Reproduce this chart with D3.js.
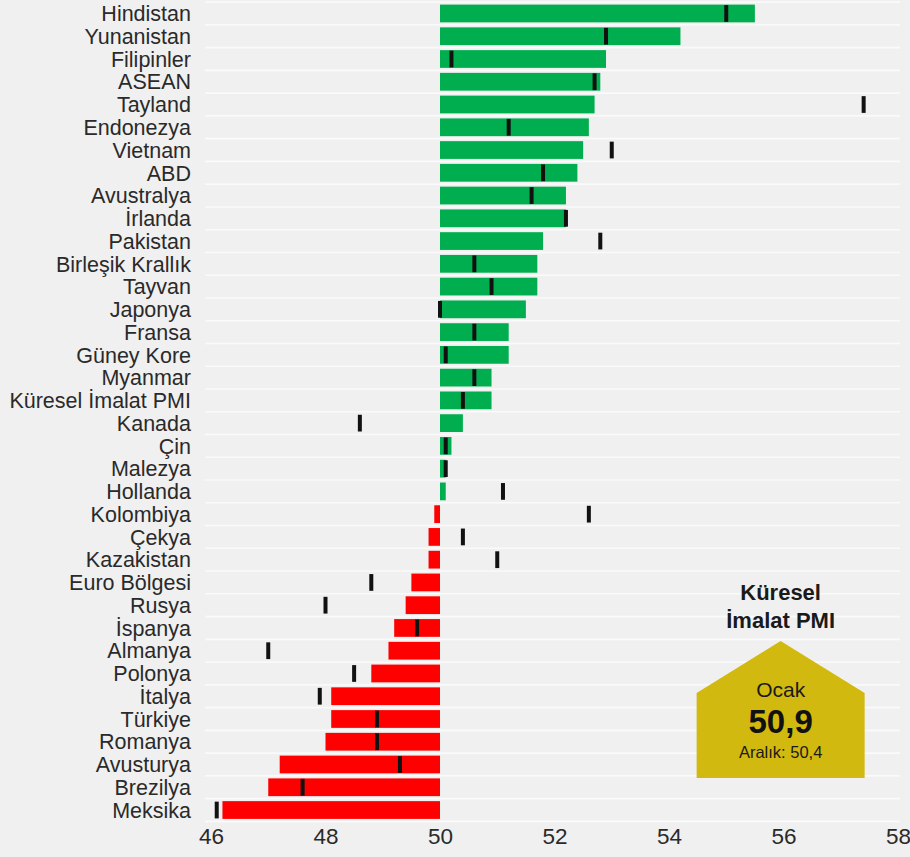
<!DOCTYPE html>
<html>
<head>
<meta charset="utf-8">
<script src="https://cdn.jsdelivr.net/npm/d3@7"></script>
<style>
  html, body { margin: 0; padding: 0; background: #f0f0f0; }
  svg { display: block; }
  text { font-family: "Liberation Sans", Arial, sans-serif; }
</style>
</head>
<body>
<svg id="chart" width="910" height="857"></svg>
<script>
// ---- Data ----
const countries = ["Hindistan","Yunanistan","Filipinler","ASEAN","Tayland","Endonezya","Vietnam","ABD","Avustralya","İrlanda","Pakistan","Birleşik Krallık","Tayvan","Japonya","Fransa","Güney Kore","Myanmar","Küresel İmalat PMI","Kanada","Çin","Malezya","Hollanda","Kolombiya","Çekya","Kazakistan","Euro Bölgesi","Rusya","İspanya","Almanya","Polonya","İtalya","Türkiye","Romanya","Avusturya","Brezilya","Meksika"];
const ocak =   [55.5,54.2,52.9,52.8,52.7,52.6,52.5,52.4,52.2,52.2,51.8,51.7,51.7,51.5,51.2,51.2,50.9,50.9,50.4,50.2,50.1,50.1,49.9,49.8,49.8,49.5,49.4,49.2,49.1,48.8,48.1,48.1,48.0,47.2,47.0,46.2];
const aralik = [55.0,52.9,50.2,52.7,57.4,51.2,53.0,51.8,51.6,52.2,52.8,50.6,50.9,50.0,50.6,50.1,50.6,50.4,48.6,50.1,50.1,51.1,52.6,50.4,51.0,48.8,48.0,49.6,47.0,48.5,47.9,48.9,48.9,49.3,47.6,46.1];
const xTicks = [46,48,50,52,54,56,58];
const badge = { title: ["Küresel", "İmalat PMI"], month: "Ocak", value: "50,9", prev: "Aralık: 50,4" };

// ---- Layout ----
const svg = d3.select("#chart");
const x = d3.scaleLinear().domain([46, 58]).range([211, 898]);
const y = d3.scaleBand().domain(countries).range([2.1, 821.4]).paddingInner(0.22).paddingOuter(0.11);
const step = y.step();
const y0 = 2.1;

// plot background separators
const sep = svg.append("g");
d3.range(countries.length + 1).forEach(i => {
  sep.append("line")
    .attr("x1", 205).attr("x2", 900)
    .attr("y1", y0 + i * step).attr("y2", y0 + i * step)
    .attr("stroke", "#fafafa").attr("stroke-width", 1.6);
});

// bars
svg.append("g").selectAll("rect").data(countries).join("rect")
  .attr("x", (d, i) => x(Math.min(50, ocak[i])))
  .attr("width", (d, i) => Math.abs(x(ocak[i]) - x(50)))
  .attr("y", d => y(d))
  .attr("height", y.bandwidth())
  .attr("fill", (d, i) => ocak[i] >= 50 ? "#00ae4f" : "#ff0000");

// previous month markers
svg.append("g").selectAll("rect").data(countries).join("rect")
  .attr("x", (d, i) => x(aralik[i]) - 2)
  .attr("width", 4)
  .attr("y", d => y(d) + 0.5)
  .attr("height", y.bandwidth() - 1)
  .attr("fill", "#111");

// category labels
svg.append("g").selectAll("text").data(countries).join("text")
  .attr("x", 191)
  .attr("y", d => y(d) + y.bandwidth() / 2)
  .attr("dy", "0.36em")
  .attr("text-anchor", "end")
  .attr("font-size", 21.5)
  .attr("fill", "#2a2a2a")
  .text(d => d);

// x axis
const xAxis = d3.axisBottom(x).tickValues(xTicks).tickSize(0).tickPadding(0).tickFormat(d3.format("d"));
const ax = svg.append("g").attr("transform", "translate(0,828)").call(xAxis);
ax.select(".domain").remove();
ax.selectAll("text").attr("font-size", 22.5).attr("fill", "#2a2a2a")
  .attr("font-family", "Liberation Sans, Arial, sans-serif").attr("dy", "0.72em");

// badge
const cx = x(55.95);
const bg = svg.append("g");
bg.append("text").attr("x", cx).attr("y", 600).attr("text-anchor", "middle")
  .attr("font-size", 22).attr("font-weight", "bold").attr("fill", "#1a1a1a").text(badge.title[0]);
bg.append("text").attr("x", cx).attr("y", 628).attr("text-anchor", "middle")
  .attr("font-size", 22).attr("font-weight", "bold").attr("fill", "#1a1a1a").text(badge.title[1]);
const hw = 84;
bg.append("path")
  .attr("d", `M${cx - hw},693 L${cx},641 L${cx + hw},693 L${cx + hw},778 L${cx - hw},778 Z`)
  .attr("fill", "#d2b90f");
bg.append("text").attr("x", cx).attr("y", 697).attr("text-anchor", "middle")
  .attr("font-size", 21).attr("fill", "#1a1a1a").text(badge.month);
bg.append("text").attr("x", cx).attr("y", 733).attr("text-anchor", "middle")
  .attr("font-size", 33).attr("font-weight", "bold").attr("fill", "#111").text(badge.value);
bg.append("text").attr("x", cx).attr("y", 758).attr("text-anchor", "middle")
  .attr("font-size", 16.5).attr("fill", "#1a1a1a").text(badge.prev);
</script>
</body>
</html>
